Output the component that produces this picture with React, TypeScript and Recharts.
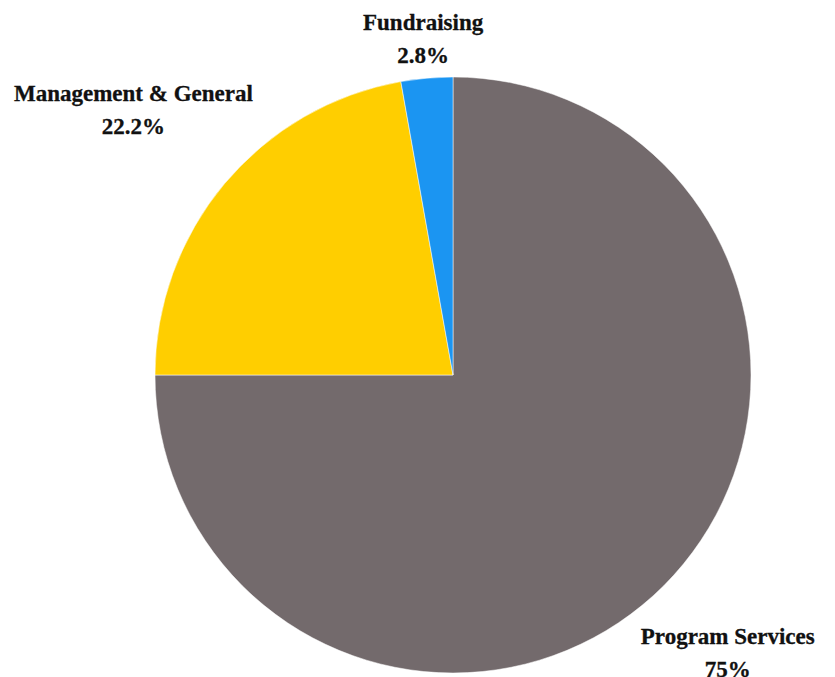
import React from 'react';
import { PieChart, Pie, Cell } from 'recharts';

const categories = ['Program Services', 'Management & General', 'Fundraising'];
const shares = [75, 22.2, 2.8];
const percentLabels = ['75%', '22.2%', '2.8%'];
const colors = ['#736a6c', '#ffce00', '#1b95f2'];

const data = categories.map((name, i) => ({ name, value: shares[i], label: percentLabels[i] }));

const FONT = 'bold 23px "Liberation Serif"';
const LINE_GAP = 33;
const RADIAN = Math.PI / 180;

let ctx: CanvasRenderingContext2D | null = null;
const measure = (text: string) => {
  if (!ctx) ctx = document.createElement('canvas').getContext('2d');
  if (!ctx) return text.length * 11;
  ctx.font = FONT;
  return ctx.measureText(text).width;
};

const SliceLabel = (props: any) => {
  const { cx, cy, outerRadius, midAngle, payload } = props;
  const name = payload.name as string;
  const pct = payload.label as string;
  const cos = Math.cos(-midAngle * RADIAN);
  const sin = Math.sin(-midAngle * RADIAN);
  const hw = Math.max(measure(name), measure(pct)) / 2;
  const hh = 27;
  // push the label box out until its edge clears the pie by a small gap
  const dist = outerRadius + 10 + hw * Math.abs(cos) + hh * Math.abs(sin);
  const x = cx + dist * cos;
  const y = cy + dist * sin;
  return (
    <g>
      <text x={x} y={y - 6} textAnchor="middle" fill="#111" stroke="#111" strokeWidth={0.3}
        style={{ font: FONT }}>{name}</text>
      <text x={x} y={y - 6 + LINE_GAP} textAnchor="middle" fill="#111" stroke="#111" strokeWidth={0.3}
        style={{ font: FONT }}>{pct}</text>
    </g>
  );
};

const App: React.FC = () => {
  return (
    <div style={{ position: 'absolute', left: 0, top: 0, width: 835, height: 677, background: '#fff' }}>
      <PieChart width={835} height={677} margin={{ top: 0, right: 0, bottom: 0, left: 0 }}>
        <Pie
          data={data}
          dataKey="value"
          nameKey="name"
          cx={453}
          cy={375}
          outerRadius={298}
          startAngle={90}
          endAngle={-270}
          stroke="#ffffff"
          strokeWidth={0.5}
          labelLine={false}
          label={SliceLabel}
          isAnimationActive={false}
        >
          {data.map((d, i) => (
            <Cell key={d.name} fill={colors[i]} />
          ))}
        </Pie>
      </PieChart>
    </div>
  );
};

export default App;
